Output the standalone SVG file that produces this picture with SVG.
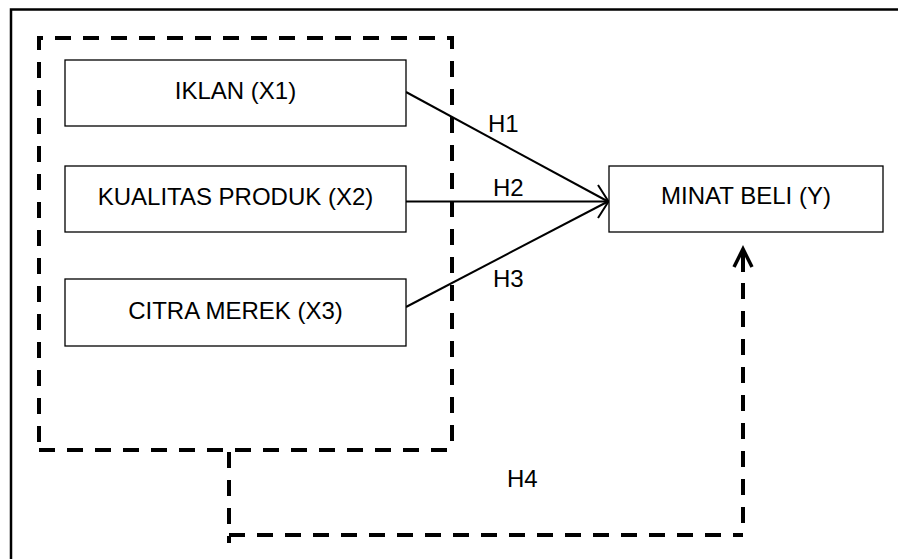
<svg xmlns="http://www.w3.org/2000/svg" width="898" height="559" viewBox="0 0 898 559">
<style>
.box{fill:#fff;stroke:#000;stroke-width:1.3}
.lbl{font-family:"Liberation Sans",Arial,sans-serif;font-size:24px;fill:#000}
.mid{text-anchor:middle}
.con{fill:none;stroke:#000;stroke-width:2}
.dash{fill:none;stroke:#000;stroke-width:4;stroke-dasharray:16 12}
</style>
<rect width="898" height="559" fill="#fff"/>
<path d="M11,562 V9.5 H900" fill="none" stroke="#000" stroke-width="2.5"/>
<g id="group-box">
<path class="dash" d="M39,442 V38 H452 V442"/>
<path class="dash" d="M39,450 H450"/>
</g>
<g id="connectors">
<line class="con" x1="406" y1="92" x2="608" y2="201.5"/>
<line class="con" x1="406" y1="201.5" x2="608" y2="201.5"/>
<line class="con" x1="406" y1="307" x2="608" y2="201.5"/>
<polyline class="con" points="598,185 608.5,201.5 598,218"/>
<line class="dash" x1="229" y1="452" x2="229" y2="543"/>
<line class="dash" x1="229" y1="535" x2="743" y2="535"/>
<line class="dash" x1="743" y1="535" x2="743" y2="283" style="stroke-dashoffset:16"/>
<line x1="743" y1="272" x2="743" y2="250" stroke="#000" stroke-width="4"/>
<polyline points="734,267 743,249 752,267" fill="none" stroke="#000" stroke-width="3.5"/>
<text class="lbl" x="488" y="132">H1</text>
<text class="lbl" x="493" y="196">H2</text>
<text class="lbl" x="493" y="287">H3</text>
<text class="lbl" x="507" y="487">H4</text>
</g>
<g id="x1">
<rect class="box" x="65" y="60" width="341" height="66"/>
<text class="lbl mid" x="235.5" y="99">IKLAN (X1)</text>
</g>
<g id="x2">
<rect class="box" x="65" y="166" width="341" height="66"/>
<text class="lbl mid" x="235.5" y="205">KUALITAS PRODUK (X2)</text>
</g>
<g id="x3">
<rect class="box" x="65" y="279" width="341" height="67"/>
<text class="lbl mid" x="235.5" y="319">CITRA MEREK (X3)</text>
</g>
<g id="y">
<rect class="box" x="609" y="166" width="274" height="66"/>
<text class="lbl mid" x="746" y="204">MINAT BELI (Y)</text>
</g>
</svg>
